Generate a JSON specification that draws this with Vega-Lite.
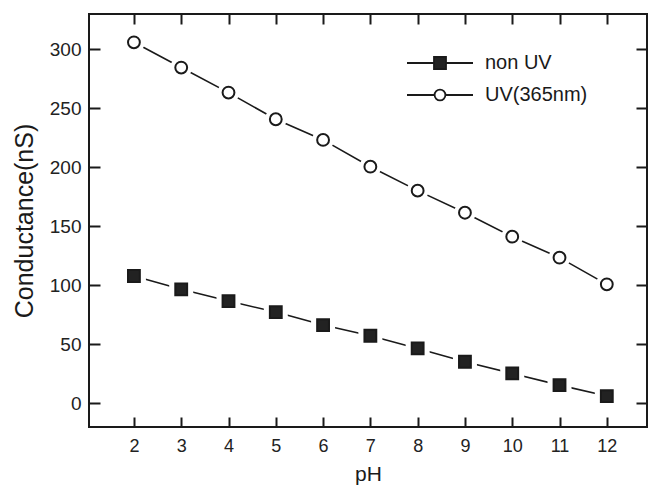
{
  "$schema": "https://vega.github.io/schema/vega-lite/v6.json",
  "width": 558,
  "height": 413,
  "autosize": {"type": "none"},
  "padding": {"left": 89, "top": 14, "right": 1, "bottom": 59},
  "config": {
    "view": {"stroke": "#1a1a1a", "strokeWidth": 2},
    "font": "Liberation Sans",
    "axis": {"domain": false, "ticks": false, "zindex": 1, "labelColor": "#222222", "titleColor": "#1a1a1a", "labelFont": "Liberation Sans", "titleFont": "Liberation Sans", "titleFontWeight": "normal"}
  },
  "data": {
    "values": [
      {"pH": 2, "value": 108, "series": "non UV"},
      {"pH": 3, "value": 96.7, "series": "non UV"},
      {"pH": 4, "value": 86.7, "series": "non UV"},
      {"pH": 5, "value": 77.4, "series": "non UV"},
      {"pH": 6, "value": 66.4, "series": "non UV"},
      {"pH": 7, "value": 57.3, "series": "non UV"},
      {"pH": 8, "value": 46.6, "series": "non UV"},
      {"pH": 9, "value": 35.3, "series": "non UV"},
      {"pH": 10, "value": 25.4, "series": "non UV"},
      {"pH": 11, "value": 15.5, "series": "non UV"},
      {"pH": 12, "value": 6.2, "series": "non UV"},
      {"pH": 2, "value": 306, "series": "UV(365nm)"},
      {"pH": 3, "value": 284.6, "series": "UV(365nm)"},
      {"pH": 4, "value": 263.4, "series": "UV(365nm)"},
      {"pH": 5, "value": 240.8, "series": "UV(365nm)"},
      {"pH": 6, "value": 223.3, "series": "UV(365nm)"},
      {"pH": 7, "value": 200.6, "series": "UV(365nm)"},
      {"pH": 8, "value": 180.3, "series": "UV(365nm)"},
      {"pH": 9, "value": 161.6, "series": "UV(365nm)"},
      {"pH": 10, "value": 141.3, "series": "UV(365nm)"},
      {"pH": 11, "value": 123.5, "series": "UV(365nm)"},
      {"pH": 12, "value": 100.9, "series": "UV(365nm)"}
    ]
  },
  "resolve": {"scale": {"shape": "independent"}},
  "layer": [
    {
      "mark": {"type": "line", "stroke": "#1a1a1a", "strokeWidth": 1.6},
      "encoding": {
        "x": {"field": "pH", "type": "quantitative", "scale": {"domain": [1.05, 12.85], "nice": false, "zero": false},
          "axis": {"orient": "bottom", "values": [2,3,4,5,6,7,8,9,10,11,12], "grid": true, "gridColor": "#1a1a1a", "gridWidth": 2, "gridOpacity": 1, "gridDash": [10, 393, 10, 1000], "labelPadding": 10, "labelFontSize": 18, "title": "pH", "titleFontSize": 21, "titlePadding": 8}},
        "y": {"field": "value", "type": "quantitative", "scale": {"domain": [-20, 330], "nice": false, "zero": false},
          "axis": {"orient": "left", "values": [0,50,100,150,200,250,300], "grid": true, "gridColor": "#1a1a1a", "gridWidth": 2, "gridOpacity": 1, "gridDash": [11, 536, 11, 1000], "labelPadding": 8, "labelFontSize": 19, "title": "Conductance(nS)", "titleFontSize": 25, "titlePadding": 12}},
        "detail": {"field": "series"}
      }
    },
    {
      "mark": {"type": "point", "filled": true, "fill": "white", "size": 576, "opacity": 1, "strokeWidth": 0},
      "encoding": {
        "x": {"field": "pH", "type": "quantitative"},
        "y": {"field": "value", "type": "quantitative"},
        "shape": {"field": "series", "type": "nominal",
          "scale": {"domain": ["non UV", "UV(365nm)"], "range": ["M-5.5,0H-1M1,0H5.5M-1,-1H1V1H-1Z", "M-5.5,0H-0.9M0.9,0H5.5M-0.9,0A0.9,0.9,0,1,0,0.9,0A0.9,0.9,0,1,0,-0.9,0Z"]},
          "legend": {"orient": "none", "legendX": 341, "legendY": 39, "title": null, "labelFontSize": 20, "labelFont": "Liberation Sans", "labelColor": "#1a1a1a", "symbolSize": 144, "symbolStrokeWidth": 1.8, "symbolStrokeColor": "#1a1a1a", "symbolOpacity": 1, "labelOffset": 35, "rowPadding": 12, "padding": 0,
            "encoding": {"symbols": {"fill": {"value": {"expr": "datum.value === 'non UV' ? '#222222' : '#ffffff'"}}, "stroke": {"value": "#1a1a1a"}, "strokeWidth": {"value": 1.8}}}}
        }
      }
    },
    {
      "mark": {"type": "point", "opacity": 1, "stroke": "#1a1a1a", "strokeWidth": 2, "size": 140},
      "encoding": {
        "x": {"field": "pH", "type": "quantitative"},
        "y": {"field": "value", "type": "quantitative"},
        "shape": {"field": "series", "type": "nominal", "scale": {"domain": ["non UV", "UV(365nm)"], "range": ["square", "circle"]}, "legend": null},
        "fill": {"field": "series", "type": "nominal", "scale": {"domain": ["non UV", "UV(365nm)"], "range": ["#222222", "#ffffff"]}, "legend": null}
      }
    }
  ]
}
